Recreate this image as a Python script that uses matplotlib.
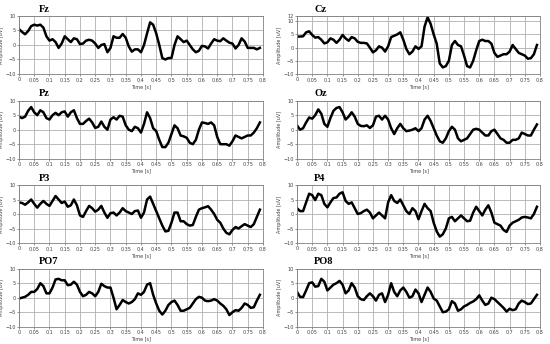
import numpy as np
import matplotlib.pyplot as plt

# time axis, 10 ms steps
time = np.round(np.arange(0, 0.80, 0.01), 2)

fz = [5.5, 4.5, 3.7, 4.8, 6.5, 7.0, 6.7, 7.0, 6.0, 3.0,
      1.5, 2.0, 1.0, -1.0, 0.5, 3.0, 2.0, 1.0, 2.3, 2.0,
      0.3, 0.5, 1.5, 1.8, 1.5, 0.5, -1.0, 0.0, 0.3, -2.5,
      -1.0, 3.0, 2.5, 2.5, 3.8, 2.5, -0.5, -2.3, -1.5, -1.5,
      -2.5, 0.0, 4.0, 7.8, 7.0, 4.0, 0.0, -4.5, -5.0, -4.5,
      -4.5, 0.0, 3.0, 2.0, 1.0, 1.5, 0.0, -1.5, -2.5, -2.0,
      -0.3, -0.5, -1.2, 0.5, 2.0, 1.5, 1.3, 2.3, 1.5, 0.8,
      0.5, -1.2, 0.0, 2.3, 1.2, -1.0, -1.0, -1.0, -1.5, -1.0]

cz = [4.2, 4.2, 4.3, 5.8, 6.2, 4.8, 3.8, 4.0, 3.0, 1.6,
      2.0, 3.5, 3.0, 1.8, 3.0, 4.8, 3.5, 2.6, 4.0, 3.5,
      2.2, 1.8, 1.8, 1.6, 0.0, -1.8, -1.0, 0.5, 0.0, -1.5,
      0.5, 4.0, 4.5, 5.0, 5.8, 3.0, -0.5, -2.5, -1.5, 0.5,
      -0.5, 0.5, 8.0, 11.5, 9.0, 5.0, 1.5, -6.0, -7.5, -7.0,
      -5.0, 1.0, 2.5, 1.0, 0.5, -3.0, -7.0, -7.5, -5.0, -1.0,
      2.5, 3.0, 2.5, 2.5, 1.5, -2.0, -3.5, -3.0, -2.5, -2.5,
      -1.5, 1.0, -0.5, -2.0, -2.5, -3.0, -4.2, -4.0, -2.5, 1.0]

pz = [4.5, 4.0, 4.5, 6.5, 7.8, 6.0, 5.0, 6.7, 6.0, 4.0,
      3.5, 5.0, 5.8, 5.0, 6.0, 6.3, 4.5, 6.0, 6.7, 4.0,
      2.0, 2.0, 3.0, 3.8, 2.5, 0.6, 1.0, 2.8, 1.0, 0.0,
      3.5, 4.3, 3.5, 4.8, 4.5, 1.5, 0.0, -0.5, 1.0, 0.5,
      -1.0, 2.0, 6.0, 4.0, 0.5, -0.5, -3.5, -6.0, -6.0, -4.5,
      -1.5, 1.5, 0.5, -2.0, -2.3, -2.8, -4.5, -5.0, -3.5, 0.0,
      2.5, 2.3, 2.0, 2.5, 1.5, -2.5, -5.0, -5.0, -5.0, -5.5,
      -4.0, -2.0, -2.5, -3.0, -2.5, -2.0, -2.0, -1.0, 0.5, 2.5]

oz = [1.5, 0.0, 0.5, 2.5, 4.2, 3.8, 5.0, 7.0, 5.5, 2.0,
      1.0, 4.0, 6.5, 7.5, 7.8, 6.0, 3.5, 4.5, 6.0, 4.5,
      2.0, 1.3, 1.2, 1.5, 0.6, 1.5, 4.5, 4.8, 3.5, 4.8,
      3.5, 0.5, -1.5, 0.5, 2.0, 0.5, -0.5, -0.3, 0.0, 0.5,
      -0.5, 0.5, 3.5, 4.8, 3.0, 0.5, -2.0, -4.0, -4.5, -3.0,
      -0.5, 1.0, 0.0, -3.0, -4.0, -3.5, -3.0, -1.5, 0.0, 0.3,
      0.0, -1.0, -2.0, -2.0, -0.5, 0.0, -1.5, -3.0, -3.5, -4.5,
      -4.5, -3.5, -3.5, -3.0, -1.0, -1.5, -2.0, -2.0, 0.0, 1.8]

p3 = [4.0, 3.8, 3.2, 4.0, 5.0, 3.5, 2.2, 3.5, 4.5, 3.5,
      2.8, 4.5, 6.2, 5.0, 3.8, 4.3, 2.5, 3.0, 5.0, 3.0,
      -0.5, -1.0, 1.0, 2.8, 2.0, 0.8, 1.5, 2.8, 0.5, -1.3,
      0.3, 0.5, -0.5, 0.5, 2.0, 1.0, 0.5, 0.0, 1.0, 1.2,
      -1.3, 0.5, 5.0, 6.0, 3.5, 1.0, -1.5, -4.0, -6.0, -5.8,
      -3.0, 0.5, 0.5, -2.5, -2.5, -3.5, -4.0, -3.8, -1.0, 1.5,
      2.0, 2.3, 2.7, 1.5, 0.0, -2.0, -3.0, -5.0, -6.5, -7.0,
      -5.5, -4.5, -5.0, -4.2, -3.5, -4.0, -4.5, -3.5, -1.0, 1.5]

p4 = [2.0, 1.0, 1.0, 4.0, 7.0, 6.5, 4.8, 7.0, 6.5, 3.5,
      2.3, 4.0, 5.5, 5.7, 7.0, 7.5, 4.5, 3.5, 4.0, 2.0,
      0.0, 0.3, 1.0, 1.5, 0.5, -1.5, -0.5, 0.5, -0.5, -1.5,
      4.0, 6.5, 4.5, 3.8, 5.0, 3.0, 1.0, 0.0, 2.0, 1.0,
      -1.8, 1.0, 3.5, 2.0, 1.0, -3.0, -6.0, -7.8, -7.0, -5.0,
      -1.5, -1.0, -2.5, -1.5, -0.5, -1.5, -2.5, -2.3, 0.5, 2.5,
      1.0, -0.5, 1.5, 3.0, 0.5, -3.0, -3.5, -4.0, -5.5, -6.2,
      -4.0, -3.0, -2.5, -2.0, -1.2, -1.0, -1.2, -1.5, 0.0, 2.5]

po7 = [-0.3, 0.0, 0.3, 1.0, 2.0, 2.0, 3.0, 5.0, 4.0, 1.5,
       1.5, 3.5, 6.3, 6.5, 6.0, 6.0, 4.3, 4.5, 5.5, 4.5,
       2.0, 0.5, 1.0, 2.0, 1.5, 0.5, 2.0, 4.8, 4.0, 3.5,
       3.5, 0.0, -4.0, -2.5, -0.8, -1.5, -2.0, -1.5, -0.5, 1.5,
       1.0, 2.0, 4.5, 5.0, 1.0, -2.0, -4.5, -5.8, -4.5, -2.5,
       -1.5, -1.0, -2.5, -4.5, -4.5, -4.0, -3.5, -2.0, -0.5, 0.3,
       0.0, -1.0, -1.2, -1.0, -0.5, -1.0, -2.0, -2.8, -4.0, -6.0,
       -5.0, -4.3, -4.5, -3.5, -2.0, -2.5, -3.5, -3.3, -1.0, 1.0]

po8 = [2.0, 0.3, 0.2, 2.5, 5.0, 5.3, 3.8, 4.0, 6.5, 5.5,
       2.5, 3.5, 4.5, 5.0, 5.8, 4.5, 1.5, 2.5, 5.0, 3.5,
       0.5, -0.5, -0.8, 0.5, 1.5, 0.5, -1.0, 1.0, 1.5, -1.5,
       1.0, 5.0, 2.0, 0.5, 2.5, 3.5, 2.0, 0.0, 0.5, 2.8,
       1.5, -1.5, 1.0, 3.5, 2.0, -0.3, -1.0, -3.0, -5.0, -4.8,
       -4.0, -1.2, -2.0, -4.5, -4.0, -3.0, -2.5, -1.8, -1.3, -0.5,
       0.8, -1.0, -2.5, -2.0, 0.0, -0.5, -1.5, -2.5, -3.5, -4.8,
       -3.8, -4.3, -4.0, -2.0, -1.0, -1.5, -2.2, -2.0, -0.5, 1.0]

channels = ["Fz", "Cz", "Pz", "Oz", "P3", "P4", "PO7", "PO8"]
signals = [fz, cz, pz, oz, p3, p4, po7, po8]

xticks = np.round(np.arange(0, 0.801, 0.05), 2)
xticklabels = [("%g" % v).replace(".", ",") for v in xticks]

fig = plt.figure(figsize=(5.5, 3.44), dpi=100)

lefts = [0.0345, 0.54]
widths = [0.4436, 0.4418]
bottoms = [0.7849, 0.5387, 0.2936, 0.0503]
height = 0.1686
grey = "#808080"

for i, (name, sig) in enumerate(zip(channels, signals)):
    row, col = divmod(i, 2)
    ax = fig.add_axes([lefts[col], bottoms[row], widths[col], height])
    ax.plot(time, sig, color="black", lw=1.8, solid_joinstyle="round")
    ax.set_xlim(0, 0.8)
    if name == "Cz":
        ax.set_ylim(-10, 12)
        ax.set_yticks([-10, -5, 0, 5, 10, 12])
    else:
        ax.set_ylim(-10, 10)
        ax.set_yticks([-10, -5, 0, 5, 10])
    ax.set_xticks(xticks)
    ax.set_xticklabels(xticklabels)
    ax.grid(True, color="#b0b0b0", lw=0.6)
    ax.set_axisbelow(True)
    for s in ax.spines.values():
        s.set_color(grey)
        s.set_linewidth(0.6)
    ax.tick_params(labelsize=3.5, colors="#404040", length=1.5, width=0.4, pad=1)
    ax.set_xlabel("Time [s]", fontsize=3.5, labelpad=1, color="#404040")
    ax.set_ylabel("Amplitude [uV]", fontsize=3.5, labelpad=1, color="#404040")
    xoff = 0.082 if col == 0 else 0.07
    ax.text(xoff, 1.12, name, transform=ax.transAxes, ha="left", va="center",
            fontsize=7.5, fontweight="bold", family="Liberation Serif")

fig.savefig("out.png", dpi=100)
